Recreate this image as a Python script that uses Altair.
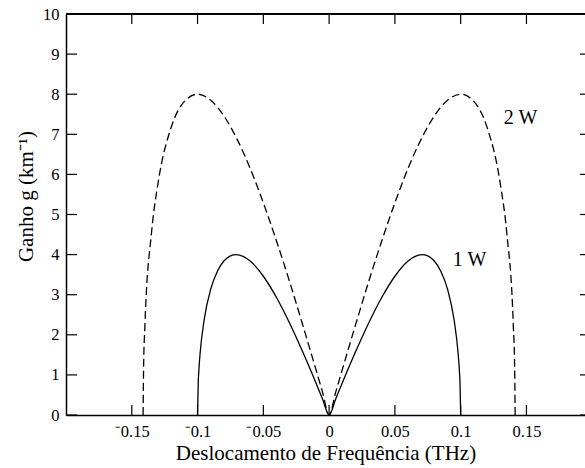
import altair as alt
import pandas as pd

# 1 W curve (solid)
f_1w = [-0.1, -0.0995, -0.099, -0.098, -0.095, -0.09, -0.085, -0.08, -0.075, -0.0707, -0.065, -0.06,
        -0.05, -0.04, -0.03, -0.02, -0.01, -0.005, 0.0,
        0.005, 0.01, 0.02, 0.03, 0.04, 0.05, 0.06, 0.065, 0.0707, 0.075, 0.08, 0.085, 0.09,
        0.095, 0.098, 0.099, 0.0995, 0.1]
g_1w = [0.0, 0.80, 1.12, 1.56, 2.37, 3.14, 3.58, 3.84, 3.97, 4.0, 3.95, 3.84,
        3.46, 2.93, 2.29, 1.57, 0.80, 0.40, 0.0,
        0.40, 0.80, 1.57, 2.29, 2.93, 3.46, 3.84, 3.95, 4.0, 3.97, 3.84, 3.58, 3.14,
        2.37, 1.56, 1.12, 0.80, 0.0]

# 2 W curve (dashed)
f_2w = [-0.1414, -0.141, -0.14, -0.135, -0.13, -0.12, -0.11, -0.1, -0.09, -0.08, -0.07,
        -0.06, -0.05, -0.04, -0.03, -0.02, -0.01, -0.005, 0.0,
        0.005, 0.01, 0.02, 0.03, 0.04, 0.05, 0.06, 0.07, 0.08, 0.09, 0.1,
        0.11, 0.12, 0.13, 0.135, 0.14, 0.141, 0.1414]
g_2w = [0.0, 1.23, 2.24, 4.55, 5.79, 7.18, 7.82, 8.0, 7.85, 7.46, 6.88,
        6.15, 5.29, 4.34, 3.32, 2.24, 1.13, 0.57, 0.0,
        0.57, 1.13, 2.24, 3.32, 4.34, 5.29, 6.15, 6.88, 7.46, 7.85, 8.0,
        7.82, 7.18, 5.79, 4.55, 2.24, 1.23, 0.0]

x_ticks = [-0.15, -0.1, -0.05, 0.0, 0.05, 0.1, 0.15]
x_tick_labels = ["⁻0.15", "⁻0.1", "⁻0.05", "0", "0.05", "0.1", "0.15"]
y_ticks = [0, 1, 2, 3, 4, 5, 6, 7, 8, 9, 10]

label_text = ["2 W", "1 W"]
label_x = [0.1455, 0.1068]
label_y = [7.41, 3.87]

W, H = 519, 401
FONT = "Liberation Serif"

d1 = pd.DataFrame({"f": f_1w, "g": g_1w, "o": range(len(f_1w))})
d2 = pd.DataFrame({"f": f_2w, "g": g_2w, "o": range(len(f_2w))})
dx = pd.DataFrame({"v": x_ticks})
dy = pd.DataFrame({"v": y_ticks})
dl = pd.DataFrame({"t": label_text, "x": label_x, "y": label_y})

label_map = "{" + ",".join(f"'{'%g' % v}':'{l}'" for v, l in zip(x_ticks, x_tick_labels)) + "}"

xs = alt.Scale(domain=[-0.2, 0.1945], nice=False, zero=False)
ys = alt.Scale(domain=[0, 10], nice=False)

xaxis = alt.Axis(values=x_ticks, ticks=False, grid=False, domain=True,
                 labelExpr=f"{label_map}[''+datum.value] || datum.label",
                 labelPadding=8,
                 title="Deslocamento de Frequência (THz)", titlePadding=3)
yaxis = alt.Axis(values=y_ticks, ticks=False, grid=False, domain=True,
                 labelPadding=7,
                 title="Ganho g  (km⁻¹)", titlePadding=6, titleY=182)

line1 = alt.Chart(d1).mark_line(color="black", strokeWidth=1.3, interpolate="monotone").encode(
    x=alt.X("f:Q", scale=xs, axis=xaxis),
    y=alt.Y("g:Q", scale=ys, axis=yaxis),
    order="o:Q",
)
line2 = alt.Chart(d2).mark_line(color="black", strokeWidth=1.3, strokeDash=[8, 4],
                                interpolate="monotone").encode(
    x=alt.X("f:Q", scale=xs, axis=xaxis),
    y=alt.Y("g:Q", scale=ys, axis=yaxis),
    order="o:Q",
)

tick_b = alt.Chart(dx).mark_rule(color="black", strokeWidth=1.2).encode(
    x=alt.X("v:Q", scale=xs, axis=xaxis), y=alt.value(H), y2=alt.value(H - 10))
tick_t = alt.Chart(dx).mark_rule(color="black", strokeWidth=1.2).encode(
    x=alt.X("v:Q", scale=xs, axis=xaxis), y=alt.value(0), y2=alt.value(10))
tick_l = alt.Chart(dy).mark_rule(color="black", strokeWidth=1.2).encode(
    y=alt.Y("v:Q", scale=ys, axis=yaxis), x=alt.value(0), x2=alt.value(11))
tick_r = alt.Chart(dy).mark_rule(color="black", strokeWidth=1.2).encode(
    y=alt.Y("v:Q", scale=ys, axis=yaxis), x=alt.value(W - 5), x2=alt.value(W))
top_line = alt.Chart(dx).mark_rule(color="black", strokeWidth=1.5).encode(
    x=alt.value(0), x2=alt.value(W), y=alt.value(0))

labels = alt.Chart(dl).mark_text(font=FONT, fontSize=20, color="black", align="center",
                                 baseline="middle").encode(
    x=alt.X("x:Q", scale=xs, axis=xaxis), y=alt.Y("y:Q", scale=ys, axis=yaxis), text="t:N")

chart = alt.layer(line1, line2, tick_b, tick_t, tick_l, tick_r, top_line, labels).properties(
    width=W, height=H,
    autosize=alt.AutoSizeParams(type="none"),
    padding={"left": 66, "top": 14, "right": 0, "bottom": 53},
    background="white",
).configure_view(stroke=None).configure_axis(
    labelFont=FONT, labelFontSize=16.5, labelColor="black",
    titleFont=FONT, titleFontSize=21, titleFontWeight="normal", titleColor="black",
    domainColor="black", domainWidth=1.5,
)

chart.save("out.html", embed_options={"renderer": "svg", "actions": False})
